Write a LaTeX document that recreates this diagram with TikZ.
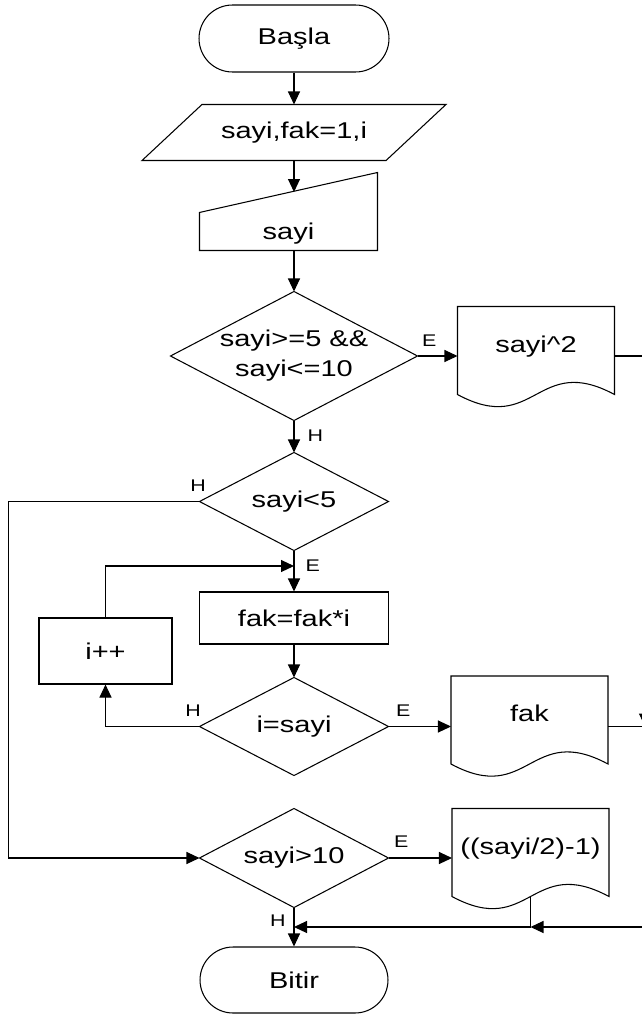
\documentclass[tikz,border=0pt]{standalone}
\usepackage{fontspec}
\newfontfamily\chartfont{Liberation Sans}[FakeStretch=1.27]
\usetikzlibrary{arrows.meta,shapes.misc}

\begin{document}
\begin{tikzpicture}[x=0.02cm, y=-0.02cm, line width=0.6pt,
        base/.style={inner sep=0pt, align=center,
            font=\chartfont\fontsize{13}{17}\selectfont},
        terminal/.style={base, draw, rounded rectangle,
            minimum width=3.8cm, minimum height=1.34cm},
        process/.style={base, draw, minimum width=3.78cm, minimum height=1.04cm},
        decision/.style={base, minimum width=3.76cm, minimum height=1.94cm},
        docbox/.style={base, minimum width=3.12cm,
            text height=0.9cm, text depth=0.84cm},
        lbl/.style={inner sep=0pt, font=\chartfont\fontsize{9.6}{11}\selectfont},
        flowarrow/.style={-{Triangle[length=0.26cm,width=0.24cm]}}
    ]
        \def\slant{0.6cm}
        \def\drop{0.8cm}

        % page
        \useasboundingbox (0,0) rectangle (642,1014);
        \clip (0,0) rectangle (642,1014);

        % main column
        \node [terminal] (start) at (294,38.5) {Başla};
        \node [base, minimum width=4.86cm, minimum height=1.1cm]
            (inp) at (294,132.5) {sayi,fak=1,i};
        \node [base, minimum width=3.54cm, text height=1.34cm, text depth=0.2cm]
            (read) at (288.5,211.5) {sayi};
        \node [decision, minimum width=4.92cm, minimum height=2.56cm]
            (d1) at (294,356) {sayi>=5 \&\&\\sayi<=10};
        \node [decision] (d2) at (294,501.5) {sayi<5};
        \node [process] (calc) at (294,618) {fak=fak*i};
        \node [process, minimum width=2.66cm, minimum height=1.32cm]
            (inc) at (105.5,651) {i++};
        \node [decision] (d3) at (294,726.5) {i=sayi};
        \node [decision, minimum height=1.96cm] (d4) at (294,858) {sayi>10};
        \node [terminal, minimum width=3.76cm, minimum height=1.32cm]
            (stop) at (294,980) {Bitir};

        % outputs
        \node [docbox] (sq) at (536,350.5) {sayi\textasciicircum 2};
        \node [docbox] (fk) at (529.5,720) {fak};
        \node [docbox] (half) at (530.5,852.5) {((sayi/2)-1)};

        \coordinate (readin) at (294,192);
        \coordinate (loopin) at (294,566);
        \coordinate (joinR) at (645,726.5);
        \coordinate (joinB) at (530.5,927);
        \coordinate (joinE) at (294,927);

        % shapes
        \draw ([xshift=\slant]inp.north west) -- ([xshift=\slant]inp.north east)
            -- ([xshift=-\slant]inp.south east) -- ([xshift=-\slant]inp.south west) -- cycle;
        \draw ([yshift=-\drop]read.north west) -- (read.north east)
            -- (read.south east) -- (read.south west) -- cycle;
        \foreach \d in {d1,d2,d3,d4}
            \draw (\d.north) -- (\d.east) -- (\d.south) -- (\d.west) -- cycle;
        \foreach \d in {sq,fk,half}
            \draw (\d.north west) -- (\d.south west)
                .. controls +(78,42) and +(-78,-42) .. (\d.south east)
                -- (\d.north east) -- cycle;

        % flow
        \draw [flowarrow] (start.south) -- (inp.north);
        \draw [flowarrow] (inp.south) -- (readin);
        \draw [flowarrow] (d1.north |- read.south) -- (d1.north);
        \draw [flowarrow] (d1.east) -- node [lbl, pos=0, anchor=south west,
            xshift=0.08cm, yshift=0.18cm] {E} (d1.east -| sq.west);
        \draw [flowarrow] (d1.south) -- node [lbl, pos=0.48, anchor=west,
            xshift=0.26cm] {H} (d2.north);
        \draw [flowarrow] (d2.west) -- node [lbl, pos=0, anchor=south east,
            xshift=0.14cm, yshift=0.18cm] {H} ++(-191,0) |- (d4.west);
        \draw [flowarrow] (d2.south) -- node [lbl, pos=0.36, anchor=west,
            xshift=0.22cm] {E} (calc.north);
        \draw [flowarrow] (inc.north) |- (loopin);
        \draw [flowarrow] (calc.south) -- (d3.north);
        \draw [flowarrow] (d3.west) -| node [lbl, pos=0, anchor=south east,
            xshift=0.04cm, yshift=0.18cm] {H} (inc.south);
        \draw [flowarrow] (d3.east) -- node [lbl, pos=0, anchor=south west,
            xshift=0.14cm, yshift=0.18cm] {E} (d3.east -| fk.west);
        \draw [flowarrow] (d4.east) -- node [lbl, pos=0, anchor=south west,
            xshift=0.1cm, yshift=0.2cm] {E} (d4.east -| half.west);
        \draw [flowarrow] (d4.south) -- node [lbl, pos=0.35, anchor=east,
            xshift=-0.16cm] {H} (stop.north);

        % joins on the right
        \draw [flowarrow] (sq.east |- d1.east) -| (joinR);
        \draw (fk.east |- joinR) -- (joinR);
        \draw [flowarrow] (joinR) |- (joinB);
        \draw (half.south) -- (joinB);
        \draw [flowarrow] (joinB) -- (joinE);
    \end{tikzpicture}
\end{document}
